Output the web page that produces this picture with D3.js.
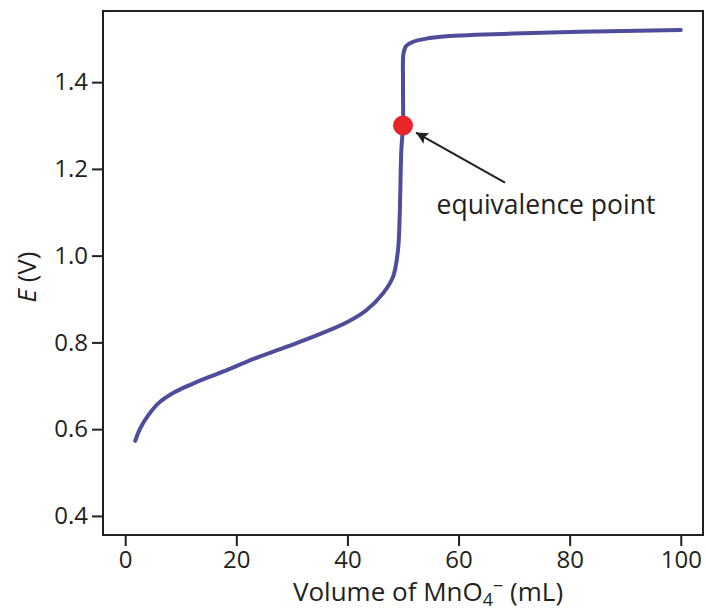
<!DOCTYPE html>
<html>
<head>
<meta charset="utf-8">
<script src="https://cdn.jsdelivr.net/npm/d3@7"></script>
<style>
  body { margin: 0; background: #fff; }
  svg { display: block; }
  text { font-family: "Open Sans", sans-serif; fill: #231f20; }
</style>
</head>
<body>
<svg id="graphe" width="706" height="612"></svg>
<script>
// Données : volume de MnO4- ajouté (mL) et potentiel E (V)
const volumes = [1.8, 2.7, 4.2, 6.0, 9.0, 12.0, 15.0, 17.7, 23.1, 29.1, 35.0, 40.0, 43.4, 46.4, 48.2, 49.1, 49.4, 49.7, 50.0, 50.0, 50.1, 50.6, 51.8, 54.5, 57.8, 63.0, 69.8, 81.8, 100]
const potentiels = [0.573, 0.602, 0.633, 0.660, 0.686, 0.704, 0.720, 0.733, 0.762, 0.790, 0.819, 0.847, 0.874, 0.913, 0.951, 1.013, 1.090, 1.243, 1.300, 1.400, 1.467, 1.484, 1.493, 1.501, 1.506, 1.509, 1.512, 1.516, 1.520]
const pointEquivalence = [50.0, 1.30]
const ticksX = [0, 20, 40, 60, 80, 100]
const ticksY = [0.4, 0.6, 0.8, 1.0, 1.2, 1.4]

const svg = d3.select("#graphe")
const gauche = 103, droite = 703, haut = 11, bas = 535

const x = d3.scaleLinear().domain([-4, 104]).range([gauche, droite])
const y = d3.scaleLinear().domain([0.356, 1.564]).range([bas, haut])

// Axes (ticks vers l'extérieur)
const axeX = svg.append("g")
    .attr("transform", `translate(0,${bas})`)
    .call(d3.axisBottom(x).tickValues(ticksX).tickSize(11).tickPadding(5).tickFormat(d3.format("d")))
const axeY = svg.append("g")
    .attr("transform", `translate(${gauche},0)`)
    .call(d3.axisLeft(y).tickValues(ticksY).tickSize(11).tickPadding(4).tickFormat(d3.format(".1f")))
for (const axe of [axeX, axeY]) {
    axe.select(".domain").remove()
    axe.selectAll("line").attr("stroke", "#231f20").attr("stroke-width", 2)
    axe.selectAll("text").attr("font-size", 24).attr("font-family", "Open Sans, sans-serif").attr("fill", "#231f20")
}

// Cadre
svg.append("rect")
    .attr("x", gauche)
    .attr("y", haut)
    .attr("width", droite - gauche)
    .attr("height", bas - haut)
    .attr("fill", "none")
    .attr("stroke", "#231f20")
    .attr("stroke-width", 2)

// Courbe de titrage
const points = volumes.map((v, i) => [v, potentiels[i]])
svg.append("path")
    .datum(points)
    .attr("fill", "none")
    .attr("stroke", "#4d4d9c")
    .attr("stroke-width", 4)
    .attr("stroke-linecap", "round")
    .attr("d", d3.line().x(d => x(d[0])).y(d => y(d[1])).curve(d3.curveCatmullRom.alpha(0.5)))

// Point d'équivalence
svg.append("circle")
    .attr("cx", x(pointEquivalence[0]))
    .attr("cy", y(pointEquivalence[1]))
    .attr("r", 10)
    .attr("fill", "#e8262a")

// Flèche + texte
svg.append("defs").append("marker")
    .attr("id", "fleche")
    .attr("viewBox", "0 0 10 10")
    .attr("refX", 10)
    .attr("refY", 5)
    .attr("markerWidth", 12)
    .attr("markerHeight", 12)
    .attr("markerUnits", "userSpaceOnUse")
    .attr("orient", "auto")
    .append("path")
    .attr("d", "M0,0 L10,5 L0,10 L2,5 Z")
    .attr("fill", "#231f20")
const cx = x(pointEquivalence[0]), cy = y(pointEquivalence[1])
svg.append("line")
    .attr("x1", cx + 102)
    .attr("y1", cy + 57)
    .attr("x2", cx + 13)
    .attr("y2", cy + 7)
    .attr("stroke", "#231f20")
    .attr("stroke-width", 2)
    .attr("marker-end", "url(#fleche)")
svg.append("text")
    .attr("x", 546)
    .attr("y", 214)
    .attr("text-anchor", "middle")
    .attr("font-size", 26.5)
    .text("equivalence point")

// Titres des axes
const titreX = svg.append("text")
    .attr("x", 428)
    .attr("y", 601)
    .attr("text-anchor", "middle")
    .attr("font-size", 26)
titreX.append("tspan").text("Volume of MnO")
titreX.append("tspan").attr("font-size", 18).attr("dy", 5).text("4")
titreX.append("tspan").attr("font-size", 18).attr("dy", -14).text("−")
titreX.append("tspan").attr("dy", 9).text(" (mL)")

const titreY = svg.append("text")
    .attr("transform", `translate(36,${(haut + bas) / 2 + 4}) rotate(-90)`)
    .attr("text-anchor", "middle")
    .attr("font-size", 26)
titreY.append("tspan").attr("font-style", "italic").text("E")
titreY.append("tspan").text(" (V)")
</script>
</body>
</html>
